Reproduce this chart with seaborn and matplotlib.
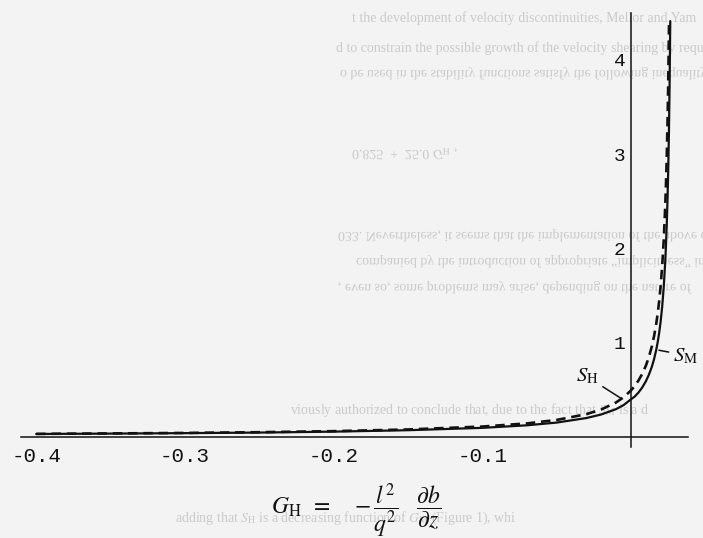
import matplotlib

matplotlib.use("Agg")

import matplotlib.pyplot as plt
import seaborn as sns
from matplotlib.font_manager import FontProperties
from matplotlib.patches import PathPatch
from matplotlib.textpath import TextPath
from matplotlib.transforms import Affine2D

# Curvas (função de estabilidade x G_H)
g_s_h = [-0.40, -0.35, -0.30, -0.25, -0.20, -0.15, -0.10, -0.07, -0.05,
         -0.03, -0.02, -0.01, -0.005, 0.0, 0.0025, 0.005, 0.0075, 0.010,
         0.012, 0.014, 0.0155, 0.017, 0.018, 0.019, 0.020, 0.021, 0.022,
         0.023, 0.0235, 0.024, 0.0245, 0.025, 0.0256]
s_h = [0.033, 0.038, 0.043, 0.051, 0.062, 0.080, 0.111, 0.144, 0.181,
       0.242, 0.292, 0.367, 0.421, 0.494, 0.541, 0.598, 0.668, 0.756,
       0.846, 0.960, 1.068, 1.204, 1.315, 1.448, 1.612, 1.818, 2.084,
       2.441, 2.670, 2.946, 3.287, 3.714, 4.42]

g_s_m = [-0.40, -0.35, -0.30, -0.25, -0.20, -0.15, -0.10, -0.07, -0.05,
         -0.03, -0.02, -0.01, -0.005, 0.0, 0.0025, 0.005, 0.0075, 0.010,
         0.012, 0.014, 0.0155, 0.017, 0.018, 0.019, 0.020, 0.021, 0.022,
         0.023, 0.0235, 0.024, 0.0245, 0.025, 0.0255, 0.026, 0.0264]
s_m = [0.032, 0.036, 0.041, 0.047, 0.057, 0.072, 0.097, 0.124, 0.153,
       0.201, 0.239, 0.296, 0.338, 0.40, 0.429, 0.471, 0.524, 0.591,
       0.659, 0.744, 0.825, 0.927, 1.010, 1.110, 1.233, 1.388, 1.587,
       1.854, 2.026, 2.232, 2.488, 2.807, 3.224, 3.79, 4.41]

x_ticks = [-0.4, -0.3, -0.2, -0.1]
x_tick_labels = ["-0.4", "-0.3", "-0.2", "-0.1"]
y_ticks = [1, 2, 3, 4]
y_tick_labels = ["1", "2", "3", "4"]

# texto do verso da folha que transparece no scan
ghost_lines = [
    ("t the development of velocity discontinuities, Mellor and Yam", 352, 22, False),
    ("d to constrain the possible growth of the velocity shearing by requirin", 336, 52, False),
    ("o be used in the stability functions satisfy the following inequality (Fi", 340, 70, True),
    (r"0.825  +  25.0 $G_{\rm H}$ ,", 352, 150, True),
    ("033. Nevertheless, it seems that the implementation of the above c", 338, 232, True),
    ("companied by the introduction of appropriate \u201cimplicitness\u201d in the", 356, 258, True),
    (", even so, some problems may arise, depending on the nature of", 338, 284, True),
    (r"viously authorized to conclude that, due to the fact that $S_{\rm M}$ is a d", 290, 414, False),
    (r"adding that $S_{\rm H}$ is a decreasing function of $G_{\rm M}$ (Figure 1), whi", 175, 522, False),
]

W, H = 703, 538
PAPER = "#f3f3f3"
GHOST = "#cacaca"
INK = "#111111"

sns.set_theme(style="white")
plt.rcParams.update({
    "font.family": ["Liberation Mono", "DejaVu Sans Mono"],
    "mathtext.fontset": "stix",
})

fig = plt.figure(figsize=(W / 100, H / 100), dpi=100, facecolor=PAPER)
ax = fig.add_axes([0, 0, 1, 1])
ax.set_facecolor("none")

ghost_font = FontProperties(family="Liberation Serif")
ghost_pt = 10


def ghost(s, x, y, flip):
    if flip:
        path = TextPath((0, 0), s, size=ghost_pt * 100 / 72, prop=ghost_font)
        tr = Affine2D().scale(1, -1).translate(x, H - y)
        fig.add_artist(PathPatch(path, transform=tr, fc=GHOST, ec="none", zorder=-2))
    else:
        fig.text(x / W, 1 - y / H, s, fontsize=ghost_pt, family="Liberation Serif",
                 color=GHOST, va="baseline", zorder=-2)


for s, x, y, flip in ghost_lines:
    ghost(s, x, y, flip)

# curvas
sns.lineplot(x=g_s_m, y=s_m, sort=False, estimator=None, color=INK, lw=1.6, ax=ax)
sns.lineplot(x=g_s_h, y=s_h, sort=False, estimator=None, color=INK, lw=1.9,
             linestyle=(0, (3.6, 2.2)), ax=ax)

# eixos cruzando na origem
ax.set_xlim(-631 / 1487, 72 / 1487)
ax.set_ylim((437 - 538) / 94.3, 437 / 94.3)
ax.spines["top"].set_visible(False)
ax.spines["right"].set_visible(False)
ax.spines["left"].set_position(("data", 0))
ax.spines["bottom"].set_position(("data", 0))
ax.spines["left"].set_bounds(-0.106, 4.5)
ax.spines["bottom"].set_bounds(-0.41, 0.038)
for side in ["left", "bottom"]:
    ax.spines[side].set_color(INK)
    ax.spines[side].set_linewidth(1.1)

ax.set_xticks(x_ticks)
ax.set_xticklabels(x_tick_labels)
ax.set_yticks(y_ticks)
ax.set_yticklabels(y_tick_labels)
ax.tick_params(axis="x", direction="inout", length=9, width=1.1, pad=3,
               labelsize=15, colors=INK)
ax.tick_params(axis="y", direction="inout", length=8, width=1.1, pad=0,
               labelsize=14, colors=INK)

# rótulos das curvas
ax.annotate(r"$S_{\rm H}$", xy=(-0.0067, 0.41), xytext=(-0.0296, 0.64),
            fontsize=15, ha="center", va="center", color=INK,
            arrowprops=dict(arrowstyle="-", color=INK, lw=1.1, shrinkA=1, shrinkB=0))
ax.annotate(r"$S_{\rm M}$", xy=(0.0188, 0.92), xytext=(0.0285, 0.86),
            fontsize=15, ha="left", va="center", color=INK,
            arrowprops=dict(arrowstyle="-", color=INK, lw=1.1, shrinkA=1, shrinkB=0,
                            relpos=(0, 0.65)))

fig.text(356 / W, 1 - 510 / H,
         r"$G_{\rm H}\;\;=\quad-\dfrac{l^{2}}{q^{2}}\quad\dfrac{\partial b}{\partial z}$",
         ha="center", va="center", fontsize=17, color=INK)

fig.savefig("out.png", dpi=100, facecolor=PAPER)
